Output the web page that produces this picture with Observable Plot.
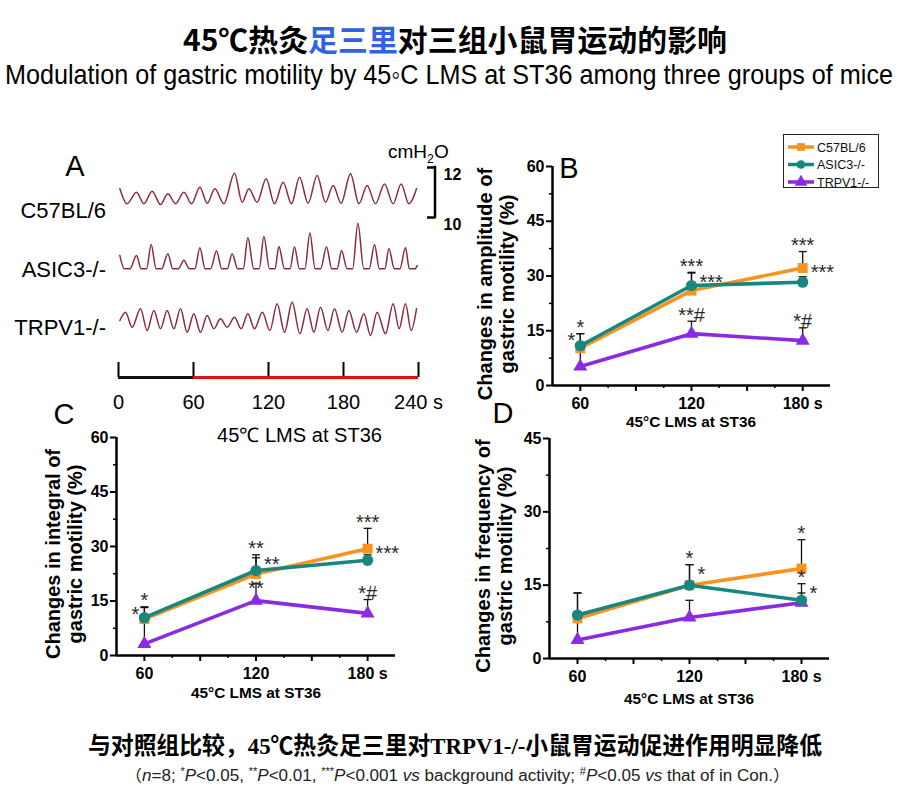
<!DOCTYPE html>
<html><head><meta charset="utf-8">
<script src="https://cdn.jsdelivr.net/npm/d3@7"></script>
<script src="https://cdn.jsdelivr.net/npm/@observablehq/plot@0.6"></script>
<style>
body{margin:0;background:#fff;}
#page{position:relative;width:900px;height:805px;overflow:hidden;background:#fff;font-family:"Liberation Sans",Arial,sans-serif;color:#000;}
.abs{position:absolute;white-space:nowrap;}
.abs svg{overflow:visible;}
sup{font-size:0.65em;line-height:0;vertical-align:0.55em;}
</style></head>
<body><div id="page"></div>
<script>
// ---------------- DATA ----------------
const groups = ["C57BL/6", "ASIC3-/-", "TRPV1-/-"];
const times = [60, 120, 180];
const timeTickLabels = ["60", "120", "180 s"];

const ampC57 = [10.2, 26.0, 32.2],  ampC57Sem = [4.0, 4.8, 4.5];
const ampASIC3 = [10.9, 27.4, 28.3], ampASIC3Sem = [3.3, 3.6, 1.5];
const ampTRPV1 = [5.2, 14.2, 12.3],  ampTRPV1Sem = [6.5, 3.4, 3.5];

const intC57 = [10.0, 22.4, 29.4],  intC57Sem = [3.2, 4.5, 5.6];
const intASIC3 = [10.4, 23.4, 26.2], intASIC3Sem = [3.0, 4.3, 1.5];
const intTRPV1 = [3.2, 15.1, 11.6],  intTRPV1Sem = [6.5, 4.8, 3.8];

const frqC57 = [8.2, 15.0, 18.4],   frqC57Sem = [5.2, 4.2, 5.9];
const frqASIC3 = [8.9, 15.0, 11.9],  frqASIC3Sem = [4.5, 4.2, 3.4];
const frqTRPV1 = [3.8, 8.4, 11.4],   frqTRPV1Sem = [5.5, 3.5, 2.0];

const ampStars = [
  {group: "ASIC3-/-", time: 60, text: "*", place: "top"},
  {group: "C57BL/6", time: 60, text: "*", place: "left"},
  {group: "ASIC3-/-", time: 120, text: "***", place: "top"},
  {group: "ASIC3-/-", time: 120, text: "***", place: "rightCap"},
  {group: "TRPV1-/-", time: 120, text: "**#", place: "top"},
  {group: "C57BL/6", time: 180, text: "***", place: "top"},
  {group: "C57BL/6", time: 180, text: "***", place: "right"},
  {group: "TRPV1-/-", time: 180, text: "*#", place: "top"}
];
const intStars = [
  {group: "ASIC3-/-", time: 60, text: "*", place: "top"},
  {group: "C57BL/6", time: 60, text: "*", place: "left"},
  {group: "ASIC3-/-", time: 120, text: "**", place: "top"},
  {group: "ASIC3-/-", time: 120, text: "**", place: "rightCap"},
  {group: "TRPV1-/-", time: 120, text: "**", place: "cap"},
  {group: "C57BL/6", time: 180, text: "***", place: "top"},
  {group: "C57BL/6", time: 180, text: "***", place: "right"},
  {group: "TRPV1-/-", time: 180, text: "*#", place: "top"}
];
const frqStars = [
  {group: "ASIC3-/-", time: 120, text: "*", place: "top"},
  {group: "ASIC3-/-", time: 120, text: "*", place: "rightCap"},
  {group: "C57BL/6", time: 180, text: "*", place: "top"},
  {group: "ASIC3-/-", time: 180, text: "*", place: "top"},
  {group: "ASIC3-/-", time: 180, text: "*", place: "rightCap"}
];

// Panel A traces: [time (s), pressure (cmH2O)]
const c57Trace = [[1.1,11.15],[6.9,10.55],[14.4,11.01],[20.3,10.55],[26.9,11.05],[33.6,10.52],[39.5,10.95],[45.6,10.55],[52.3,11.01],[58.4,10.55],[65.1,11.21],[71,10.57],[77.1,11.15],[84.3,10.55],[92.8,11.77],[98.9,10.61],[104.3,11.15],[110.9,10.61],[118.1,11.55],[124.8,10.55],[131.7,11.41],[138.4,10.55],[144.8,11.61],[151.7,10.57],[158.9,11.68],[165.6,10.61],[171.7,11.28],[178.1,10.57],[185.6,11.75],[192.3,10.55],[198.9,11.28],[205.6,10.55],[212.8,11.34],[219.7,10.55],[226.1,11.34],[232.3,10.55],[238.4,11.15]];
const asic3Trace = [[1.1,11.13],[4.7,10.6],[9.1,10.6],[14.4,11.13],[18.1,10.6],[22.5,10.6],[26.1,11.57],[30.1,10.6],[34.5,10.6],[39.5,11.2],[43.4,10.6],[47.8,10.6],[52.3,10.94],[56.7,10.6],[61.1,10.6],[65.1,11.44],[69.3,10.6],[73.7,10.6],[78.4,11.31],[82.6,10.6],[87,10.6],[90.9,11.2],[95.4,10.6],[99.8,10.6],[103.5,11.84],[108.2,10.6],[112.6,10.6],[116.3,11.89],[120.8,10.6],[125.2,10.6],[128.3,11.49],[132.8,10.6],[137.2,10.6],[140.8,11.47],[144.7,10.6],[149.1,10.6],[153.1,12.03],[157.3,10.6],[161.7,10.6],[166.4,11.47],[170.6,10.6],[175,10.6],[178.4,11.33],[182.9,10.6],[187.3,10.6],[191.5,12.42],[196.2,10.6],[200.6,10.6],[204.8,11.57],[208.7,10.6],[213.1,10.6],[216.3,11.4],[220.7,10.6],[225.1,10.6],[229.6,11.44],[232.7,10.6],[237.1,10.6],[239,10.73]];
const trpv1Trace = [[1.1,11.1],[5.6,11.43],[10.9,10.83],[17.6,11.57],[22.9,10.7],[28.3,11.5],[33.6,10.77],[38.9,11.5],[44.3,10.77],[49.6,11.57],[54.9,10.63],[60.3,11.37],[65.6,10.63],[70.9,11.3],[76.3,10.77],[81.6,11.17],[86.9,10.83],[92.8,11.23],[98.1,10.77],[103.5,11.37],[108.8,10.77],[115.1,11.43],[121.1,10.7],[126.9,11.77],[132.8,10.63],[138.9,11.83],[145.1,10.57],[150.9,11.57],[156.3,10.63],[161.6,11.63],[167.5,10.7],[172.8,11.57],[178.9,10.63],[184.3,11.5],[190.4,10.63],[196.3,11.37],[201.6,10.5],[206.9,11.43],[213.6,10.57],[219.7,11.77],[224.5,10.77],[229.6,11.77],[234.1,10.7],[238.4,11.57]];
const scaleBarTicks = [10, 12];
const recordTicks = [0, 60, 120, 180, 240];
const recordTickLabels = ["0", "60", "120", "180", "240 s"];
const recordPhases = [{start: 0, end: 60, phase: "baseline"}, {start: 60, end: 240, phase: "LMS"}];

// ---------------- STYLE ----------------
const groupColors = ["#f7931e", "#17877f", "#8a2be2"];
const groupSymbols = ["square", "circle", "triangle"];
const groupR = [5.6, 5.6, 5.2];
const drawOrder = ["TRPV1-/-", "C57BL/6", "ASIC3-/-"];
const traceColor = "#8a2c3a";
const SANS = '"Liberation Sans", Arial, sans-serif';
const page = document.getElementById("page");

function addSvg(svg, left, top, width) {
  const w = document.createElement("div");
  w.className = "abs";
  w.style.left = left + "px"; w.style.top = top + "px"; w.style.width = width + "px";
  w.appendChild(svg);
  page.appendChild(w);
}
function addText(html, o) {
  const el = document.createElement("div");
  el.className = "abs";
  el.innerHTML = html;
  Object.assign(el.style, {
    fontSize: o.size + "px", lineHeight: o.size + "px", fontWeight: o.weight || "normal",
    fontFamily: o.family || SANS, color: o.color || "#000", top: (o.yc - o.size * 0.5) + "px", left: "0px"
  });
  page.appendChild(el);
  let w = el.getBoundingClientRect().width;
  if (o.width) { const s = o.width / w; el.style.transformOrigin = "0 50%"; el.style.transform = `scaleX(${s})`; w = o.width; }
  let left = o.x;
  if (o.anchor === "middle") left = o.x - w / 2;
  if (o.anchor === "end") left = o.x - w;
  el.style.left = left + "px";
  return el;
}
function addVText(html, o) {
  const el = document.createElement("div");
  el.className = "abs";
  el.innerHTML = html;
  Object.assign(el.style, {
    fontSize: o.size + "px", lineHeight: o.size + "px", fontWeight: "bold", fontFamily: SANS,
    left: o.x + "px", top: o.yc + "px", transform: "translate(-50%,-50%) rotate(-90deg)"
  });
  page.appendChild(el);
}
const plotStyle = {background: "transparent", maxWidth: "none", overflow: "visible", fontFamily: SANS, color: "#000"};

// ---------------- TITLES ----------------
addText('45℃热灸<span style="color:#2f62e6">足三里</span>对三组小鼠胃运动的影响',
  {x: 183, yc: 38, size: 30, weight: "bold", family: '"Noto Sans CJK SC", sans-serif', width: 544});
addText('Modulation of gastric motility by 45◦C LMS at ST36 among three groups of mice',
  {x: 5, yc: 75, size: 28, family: '"Liberation Sans Narrow", "Liberation Sans", sans-serif', width: 888});
addText('与对照组比较，45℃热灸足三里对TRPV1-/-小鼠胃运动促进作用明显降低',
  {x: 88, yc: 746, size: 24, weight: "bold", family: '"Liberation Serif", "Noto Sans CJK SC", serif', width: 734});
addText('（<i>n</i>=8; <sup>*</sup><i>P</i>&lt;0.05, <sup>**</sup><i>P</i>&lt;0.01, <sup>***</sup><i>P</i>&lt;0.001 <i>vs</i> background activity; <sup>#</sup><i>P</i>&lt;0.05 <i>vs</i> that of in Con.）',
  {x: 125, yc: 776, size: 16, family: '"Liberation Sans Narrow", "Liberation Sans", "Noto Sans CJK SC", sans-serif', color: "#222", width: 665});

// ---------------- PANEL A ----------------
addText("A", {x: 75, yc: 166, size: 29, anchor: "middle"});
addText("C57BL/6", {x: 106, yc: 211, size: 22, anchor: "end"});
addText("ASIC3-/-", {x: 106, yc: 270, size: 22, anchor: "end"});
addText("TRPV1-/-", {x: 106, yc: 328, size: 22, anchor: "end"});
addText("cmH<sub style='font-size:0.65em;line-height:0'>2</sub>O", {x: 388, yc: 151, size: 19});
addText("45℃ LMS at ST36", {x: 217, yc: 435, size: 20, width: 165});

function tracePlot(data, top, height, yPage10, yPage12) {
  const svg = Plot.plot({
    width: 460, height, marginLeft: 118, marginRight: 42,
    marginTop: yPage12 - top, marginBottom: top + height - yPage10,
    x: {domain: [0, 240], axis: null}, y: {domain: [10, 12], axis: null},
    style: plotStyle,
    marks: [Plot.line(data, {x: d => d[0], y: d => d[1], curve: "monotone-x", stroke: traceColor, strokeWidth: 1.5})]
  });
  addSvg(svg, 0, top, 460);
}
tracePlot(c57Trace, 150, 80, 217, 167);
tracePlot(asic3Trace, 215, 80, 283.3, 233.3);
tracePlot(trpv1Trace, 285, 70, 347.5, 297.5);

// scale bar (10–12 cmH2O), same vertical mapping as the C57BL/6 trace; frame is 8 px wide (the ticks)
addSvg(Plot.plot({
  width: 60, height: 80, marginLeft: 17, marginRight: 35, marginTop: 17, marginBottom: 13,
  y: {domain: [10, 12], axis: null}, style: plotStyle,
  marks: [
    Plot.tickY(scaleBarTicks, {y: d => d, strokeWidth: 2.5}),
    Plot.rect([scaleBarTicks], {y1: d => d[0], y2: d => d[1], fill: "black",
      insetLeft: 6.75, insetRight: -1.25, insetTop: -1.25, insetBottom: -1.25}),
    Plot.axisY({anchor: "right", ticks: scaleBarTicks, tickSize: 0, tickPadding: 8, dy: 7, fontSize: 16,
      fontWeight: "bold", tickFormat: d => String(d), label: null})
  ]
}), 410, 150, 60);

// recording time axis
addSvg(Plot.plot({
  width: 460, height: 80, marginLeft: 118, marginRight: 42, marginTop: 22, marginBottom: 43,
  x: {domain: [0, 240], axis: null}, y: {domain: [0, 1], axis: null},
  color: {domain: ["baseline", "LMS"], range: ["#111111", "#e3110f"]},
  style: plotStyle,
  marks: [
    Plot.tickX(recordTicks, {x: d => d, strokeWidth: 2}),
    Plot.ruleY(recordPhases, {x1: "start", x2: "end", y: () => 0, stroke: "phase", strokeWidth: 3}),
    Plot.axisX({ticks: recordTicks, tickSize: 0, tickPadding: 17, fontSize: 20,
      tickFormat: d => recordTickLabels[recordTicks.indexOf(d)], label: null})
  ]
}), 0, 340, 460);

// ---------------- PANELS B, C, D ----------------
const capSymbol = {draw(ctx, size) { const w = Math.sqrt(size / Math.PI); ctx.moveTo(-w, 0); ctx.lineTo(w, 0); }};
const placeStyle = {
  top: {dx: 0, dy: -6, textAnchor: "middle", atCap: true},
  cap: {dx: 0, dy: 5, textAnchor: "middle", atCap: true},
  left: {dx: -5, dy: 7, textAnchor: "end", atCap: true},
  right: {dx: 8, dy: 5, textAnchor: "start", atCap: false},
  rightCap: {dx: 8, dy: 10, textAnchor: "start", atCap: true}
};
const xDomain = [45, 195];
const xTicksMajor = [60, 90, 120, 150, 180];
const xTicksMinor = [75, 105, 135, 165];

function panel({frame: [x0, x1, y0, y1], yMax, yTicks, yMinor, series, stars, letter, letterPos, yLabel, yLabelX, xLabelY}) {
  const mL = 45, mR = 60, mT = 40, mB = 40;
  const width = x1 - x0 + mL + mR, height = y1 - y0 + mT + mB;
  const rows = [];
  groups.forEach((g, gi) => times.forEach((t, i) =>
    rows.push({group: g, time: t, value: series[gi][0][i], err: series[gi][1][i]})));
  const find = (g, t) => rows.find(r => r.group === g && r.time === t);
  const marks = [
    Plot.ruleX(rows, {x: "time", y1: "value", y2: d => d.value + d.err, stroke: "#111", strokeWidth: 1.3}),
    Plot.dot(rows, {x: "time", y: d => d.value + d.err, symbol: capSymbol, r: 4, fill: "none", stroke: "#111", strokeWidth: 1.3})
  ];
  for (const g of drawOrder) {
    const gi = groups.indexOf(g);
    marks.push(Plot.line(rows, {filter: d => d.group === g, x: "time", y: "value", stroke: "group", strokeWidth: 3.6}));
    marks.push(Plot.dot(rows, {filter: d => d.group === g, x: "time", y: "value", fill: "group", symbol: "group", r: groupR[gi], stroke: "none"}));
  }
  for (const [place, st] of Object.entries(placeStyle)) {
    const sel = stars.filter(s => s.place === place).map(s => {
      const r = find(s.group, s.time);
      return {...s, y: st.atCap ? r.value + r.err : r.value};
    });
    if (sel.length) marks.push(Plot.text(sel, {x: "time", y: "y", text: "text", dx: st.dx, dy: st.dy,
      textAnchor: st.textAnchor, fontSize: 20, fill: "#2a2a2a"}));
  }
  marks.push(
    Plot.ruleY([0], {strokeWidth: 2.5}),
    Plot.ruleX([xDomain[0]], {strokeWidth: 2.5}),
    Plot.axisY({ticks: yTicks, tickSize: 6, tickPadding: 2, fontSize: 16, fontWeight: "bold", strokeWidth: 2, label: null}),
    Plot.axisY({ticks: yMinor, tickSize: 3, tickFormat: () => "", strokeWidth: 1.5, label: null}),
    Plot.axisX({ticks: xTicksMajor, tickSize: 6, tickPadding: 6, fontSize: 16, fontWeight: "bold", strokeWidth: 2, label: null,
      tickFormat: d => times.includes(d) ? timeTickLabels[times.indexOf(d)] : ""}),
    Plot.axisX({ticks: xTicksMinor, tickSize: 3, tickFormat: () => "", strokeWidth: 1.5, label: null})
  );
  const svg = Plot.plot({
    width, height, marginLeft: mL, marginRight: mR, marginTop: mT, marginBottom: mB,
    x: {domain: xDomain, axis: null}, y: {domain: [0, yMax], axis: null},
    color: {domain: groups, range: groupColors},
    symbol: {domain: groups, range: groupSymbols},
    style: plotStyle, marks
  });
  addSvg(svg, x0 - mL, y0 - mT, width);
  addText(letter, {x: letterPos[0], yc: letterPos[1], size: 29, anchor: "middle"});
  addVText(yLabel[0], {x: yLabelX[0], yc: (y0 + y1) / 2 + 8, size: 20});
  addVText(yLabel[1], {x: yLabelX[1], yc: (y0 + y1) / 2 + 8, size: 20});
  addText("45°C LMS at ST36", {x: (x0 + x1) / 2, yc: xLabelY, size: 15, weight: "bold", width: 130, anchor: "middle"});
}

panel({frame: [552, 830, 166, 385], yMax: 60, yTicks: [0, 15, 30, 45, 60], yMinor: [7.5, 22.5, 37.5, 52.5],
  series: [[ampC57, ampC57Sem], [ampASIC3, ampASIC3Sem], [ampTRPV1, ampTRPV1Sem]], stars: ampStars,
  letter: "B", letterPos: [569, 168], yLabel: ["Changes in amplitude of", "gastric motility (%)"], yLabelX: [485, 507], xLabelY: 421});
panel({frame: [116, 395, 437, 655], yMax: 60, yTicks: [0, 15, 30, 45, 60], yMinor: [7.5, 22.5, 37.5, 52.5],
  series: [[intC57, intC57Sem], [intASIC3, intASIC3Sem], [intTRPV1, intTRPV1Sem]], stars: intStars,
  letter: "C", letterPos: [64, 414], yLabel: ["Changes in integral of", "gastric motility (%)"], yLabelX: [53, 75], xLabelY: 692});
panel({frame: [549, 829, 438, 658], yMax: 45, yTicks: [0, 15, 30, 45], yMinor: [7.5, 22.5, 37.5],
  series: [[frqC57, frqC57Sem], [frqASIC3, frqASIC3Sem], [frqTRPV1, frqTRPV1Sem]], stars: frqStars,
  letter: "D", letterPos: [503, 413], yLabel: ["Changes in frequency of", "gastric motility (%)"], yLabelX: [483, 505], xLabelY: 698});

// ---------------- LEGEND (panel B) ----------------
{
  const symMap = {square: d3.symbolSquare, circle: d3.symbolCircle, triangle: d3.symbolTriangle};
  const lg = d3.create("svg").attr("width", 96).attr("height", 54).style("overflow", "visible");
  lg.append("rect").attr("x", 0.5).attr("y", 0.5).attr("width", 95).attr("height", 53)
    .attr("fill", "#fff").attr("stroke", "#222").attr("stroke-width", 1);
  groups.forEach((g, i) => {
    const y = 13 + i * 17.5;
    lg.append("line").attr("x1", 5).attr("x2", 31).attr("y1", y).attr("y2", y)
      .attr("stroke", groupColors[i]).attr("stroke-width", 3.5);
    lg.append("path").attr("transform", `translate(18,${y})`)
      .attr("d", d3.symbol(symMap[groupSymbols[i]], i === 2 ? 70 : 60)()).attr("fill", groupColors[i]);
    lg.append("text").attr("x", 34).attr("y", y).attr("dy", "0.36em").attr("font-size", 12.5)
      .attr("font-family", SANS).attr("fill", "#111").text(g);
  });
  addSvg(lg.node(), 783, 134, 96);
}
</script>
</body></html>
